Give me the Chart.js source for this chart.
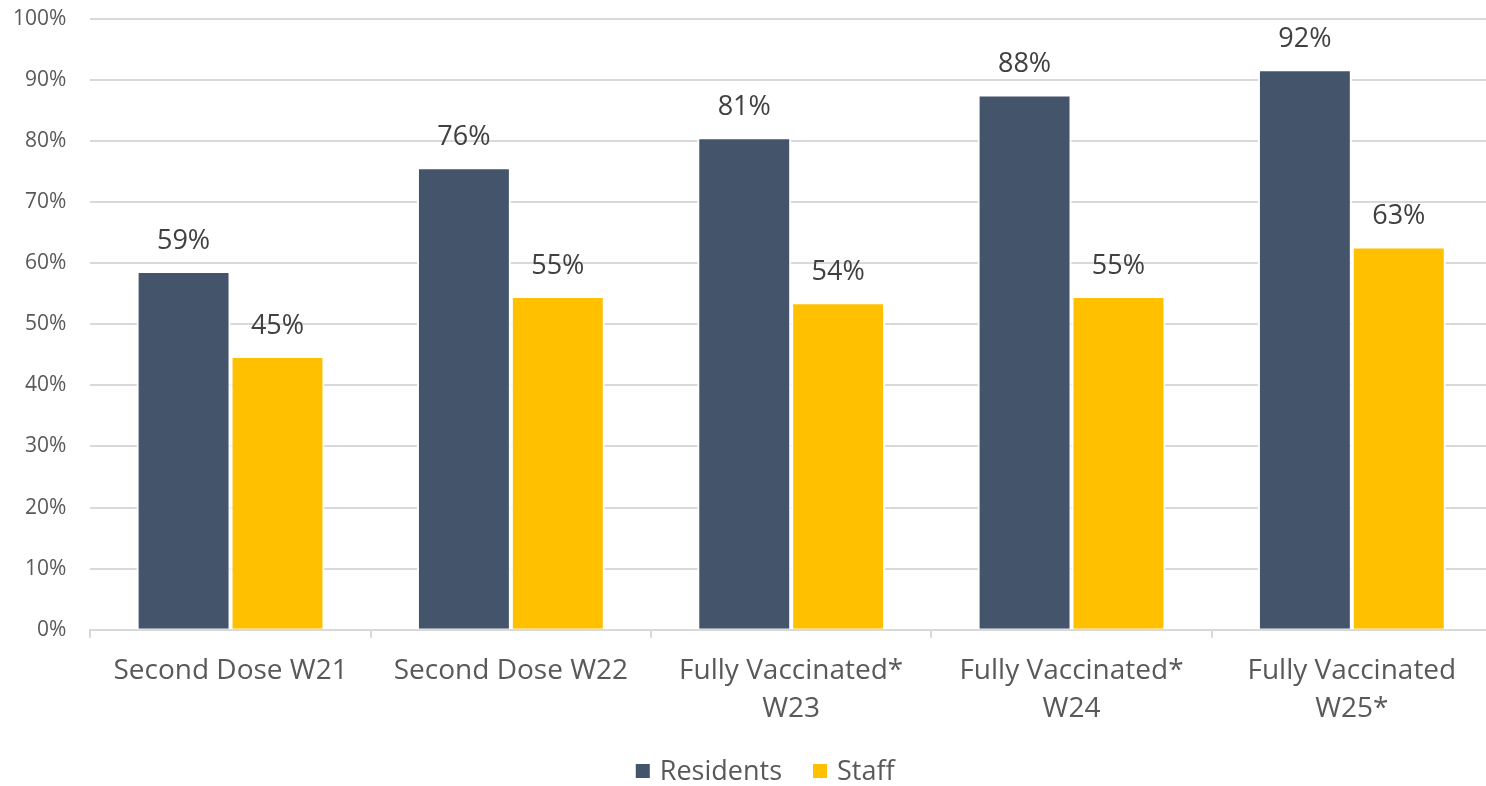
<!DOCTYPE html>
<html>
<head>
<meta charset="utf-8">
<script src="https://cdn.jsdelivr.net/npm/chart.js@4"></script>
<style>
html,body{margin:0;padding:0;background:#fff;overflow:hidden;width:1486px;height:786px;}
#wrap{width:1503px;height:807px;position:absolute;left:-11px;top:-18px;}
</style>
</head>
<body>
<div id="wrap"><canvas id="c"></canvas></div>
<script>
const categories = [["Second Dose W21"], ["Second Dose W22"], ["Fully Vaccinated*", "W23"], ["Fully Vaccinated*", "W24"], ["Fully Vaccinated", "W25*"]];
const residents = [58.7, 75.7, 80.6, 87.6, 91.7];
const staff = [44.8, 54.6, 53.6, 54.6, 62.7];
const residentLabels = ["59%", "76%", "81%", "88%", "92%"];
const staffLabels = ["45%", "55%", "54%", "55%", "63%"];
const yTicks = [0,10,20,30,40,50,60,70,80,90,100];

const FONT = "'Open Sans', sans-serif";

const labelPlugin = {
  id: 'barLabels',
  afterDatasetsDraw(chart) {
    const ctx = chart.ctx;
    ctx.save();
    ctx.font = "27px " + FONT;
    ctx.fillStyle = "#404040";
    ctx.textAlign = "center";
    ctx.textBaseline = "middle";
    const lbls = [residentLabels, staffLabels];
    chart.data.datasets.forEach((ds, di) => {
      chart.getDatasetMeta(di).data.forEach((bar, i) => {
        ctx.fillText(lbls[di][i], bar.x, bar.y - 30);
      });
    });
    ctx.restore();
  }
};

// bottom legend (boxes + dataset names), centred under the plot
const legendPlugin = {
  id: 'bottomLegend',
  afterDraw(chart) {
    const ctx = chart.ctx;
    ctx.save();
    ctx.font = "27px " + FONT;
    ctx.textBaseline = "middle";
    ctx.textAlign = "left";
    const box = 14, gapText = 10, gapItem = 31;
    const items = chart.data.datasets.map(ds => ({ text: ds.label, color: ds.backgroundColor, w: ctx.measureText(ds.label).width }));
    let total = 0;
    items.forEach((it, i) => { total += box + gapText + it.w + (i < items.length - 1 ? gapItem : 0); });
    const cx = chart.chartArea.left + (chart.chartArea.right - chart.chartArea.left) / 2 - 26;
    let x = cx - total / 2;
    const y = chart.height - 18;
    items.forEach(it => {
      ctx.fillStyle = it.color;
      ctx.fillRect(x, y - box / 2, box, box);
      x += box + gapText;
      ctx.fillStyle = '#595959';
      ctx.fillText(it.text, x, y + 1);
      x += it.w + gapItem;
    });
    ctx.restore();
  }
};

new Chart(document.getElementById('c'), {
  type: 'bar',
  data: {
    labels: categories,
    datasets: [
      { label: 'Residents', data: residents, backgroundColor: '#44546A', borderColor: '#ffffff', borderWidth: 2, borderSkipped: 'start' },
      { label: 'Staff', data: staff, backgroundColor: '#FFC000', borderColor: '#ffffff', borderWidth: 2, borderSkipped: 'start' }
    ]
  },
  options: {
    responsive: true,
    maintainAspectRatio: false,
    animation: false,
    datasets: { bar: { categoryPercentage: 0.67, barPercentage: 1.0 } },
    layout: { padding: { top: 5, left: 0, right: 0, bottom: 47 } },
    plugins: {
      legend: { display: false },
      tooltip: { enabled: false }
    },
    scales: {
      x: {
        grid: { offset: true, drawOnChartArea: false, drawTicks: true, tickLength: 8, color: '#d9d9d9', lineWidth: 2 },
        border: { display: true, color: '#d9d9d9', width: 2 },
        ticks: { font: { family: FONT, size: 28, lineHeight: 1.36 }, color: '#595959', padding: 14, maxRotation: 0, autoSkip: false }
      },
      y: {
        min: 0, max: 100,
        afterBuildTicks(axis) { axis.ticks = yTicks.map(v => ({ value: v })); },
        grid: { color: '#d9d9d9', lineWidth: 2, drawTicks: false },
        border: { display: false },
        ticks: { font: { family: FONT, size: 21 }, color: '#595959', padding: 24, callback: v => v + '%' }
      }
    }
  },
  plugins: [labelPlugin, legendPlugin]
});
</script>
</body>
</html>
